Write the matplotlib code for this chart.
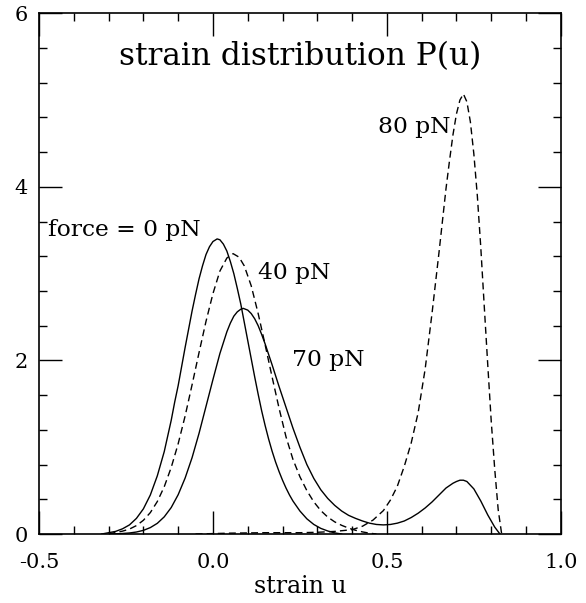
import numpy as np
import matplotlib
matplotlib.use('Agg')
import matplotlib.pyplot as plt
from matplotlib.ticker import MultipleLocator, FormatStrFormatter

# strain distribution P(u), one curve per force
u_0pN = [-0.32, -0.30, -0.28, -0.26, -0.24, -0.22, -0.20, -0.18, -0.16, -0.14, -0.12, -0.11,
         -0.10, -0.09, -0.08, -0.07, -0.06, -0.05, -0.04, -0.03, -0.02, -0.01, 0.00, 0.012,
         0.02, 0.03, 0.04, 0.05, 0.06, 0.07, 0.08, 0.09, 0.10, 0.11, 0.12, 0.13, 0.14,
         0.15, 0.16, 0.17, 0.18, 0.19, 0.20, 0.21, 0.22, 0.23, 0.25, 0.27, 0.29, 0.31,
         0.33, 0.35, 0.37]
p_0pN = [0.0, 0.015, 0.03, 0.06, 0.105, 0.18, 0.29, 0.45, 0.67, 0.95, 1.31, 1.52,
         1.71, 1.93, 2.15, 2.36, 2.57, 2.76, 2.94, 3.09, 3.22, 3.31, 3.37, 3.40,
         3.39, 3.34, 3.26, 3.14, 3.00, 2.83, 2.65, 2.44, 2.23, 2.02, 1.81, 1.61, 1.42,
         1.25, 1.095, 0.955, 0.83, 0.72, 0.62, 0.53, 0.45, 0.38, 0.265, 0.175, 0.11, 0.065,
         0.035, 0.013, 0.0]

u_40pN = [-0.30, -0.28, -0.26, -0.24, -0.22, -0.20, -0.18, -0.16, -0.14, -0.12, -0.10, -0.08,
          -0.06, -0.04, -0.02, 0.00, 0.02, 0.04, 0.058, 0.075, 0.09, 0.11, 0.13, 0.15,
          0.17, 0.19, 0.21, 0.23, 0.25, 0.27, 0.29, 0.31, 0.33, 0.35, 0.37, 0.39, 0.41,
          0.43, 0.45, 0.47]
p_40pN = [0.0, 0.018, 0.033, 0.057, 0.097, 0.158, 0.247, 0.374, 0.545, 0.767, 1.04, 1.36,
          1.72, 2.09, 2.45, 2.77, 3.03, 3.18, 3.23, 3.19, 3.09, 2.86, 2.54, 2.18,
          1.81, 1.45, 1.12, 0.86, 0.66, 0.50, 0.37, 0.27, 0.195, 0.14, 0.10, 0.068, 0.043,
          0.024, 0.01, 0.0]

u_70pN = [-0.29, -0.26, -0.24, -0.22, -0.20, -0.18, -0.16, -0.14, -0.12, -0.10, -0.08, -0.06,
          -0.04, -0.02, 0.00, 0.02, 0.04, 0.05, 0.06, 0.07, 0.08, 0.087, 0.10, 0.11, 0.12,
          0.13, 0.14, 0.15, 0.16, 0.17, 0.19, 0.21, 0.23, 0.25, 0.27, 0.29, 0.31, 0.33,
          0.35, 0.37, 0.39, 0.41, 0.43, 0.45, 0.47, 0.49, 0.51, 0.53, 0.55, 0.57, 0.59,
          0.61, 0.63, 0.65, 0.67, 0.69, 0.70, 0.71, 0.72, 0.73, 0.75, 0.77, 0.79, 0.81,
          0.825]
p_70pN = [0.0, 0.006, 0.012, 0.023, 0.042, 0.074, 0.123, 0.198, 0.305, 0.453, 0.645, 0.88,
          1.16, 1.47, 1.78, 2.08, 2.33, 2.43, 2.51, 2.56, 2.59, 2.60, 2.58, 2.54, 2.48,
          2.40, 2.30, 2.19, 2.07, 1.95, 1.70, 1.46, 1.22, 1.00, 0.80, 0.64, 0.51, 0.41,
          0.33, 0.265, 0.215, 0.18, 0.15, 0.125, 0.11, 0.105, 0.11, 0.125, 0.15, 0.19, 0.24,
          0.30, 0.37, 0.45, 0.53, 0.585, 0.605, 0.62, 0.62, 0.605, 0.52, 0.38, 0.22, 0.08,
          0.0]

u_80pN = [-0.05, 0.05, 0.15, 0.25, 0.30, 0.35, 0.40, 0.43, 0.46, 0.49, 0.51, 0.53, 0.55,
          0.57, 0.59, 0.61, 0.63, 0.65, 0.67, 0.68, 0.69, 0.70, 0.71, 0.72, 0.73, 0.74,
          0.75, 0.76, 0.77, 0.78, 0.79, 0.80, 0.81, 0.82, 0.83]
p_80pN = [0.0, 0.01, 0.015, 0.015, 0.02, 0.03, 0.05, 0.09, 0.16, 0.27, 0.39, 0.55, 0.78,
          1.05, 1.40, 1.90, 2.55, 3.25, 3.98, 4.30, 4.60, 4.84, 5.00, 5.07, 4.98, 4.75,
          4.38, 3.90, 3.30, 2.62, 1.95, 1.30, 0.75, 0.28, 0.0]

labels = ['force = 0 pN', '40 pN', '70 pN', '80 pN']
label_pos = [(-0.474, 3.50), (0.129, 3.01), (0.227, 2.00), (0.474, 4.69)]

plt.rcParams['font.family'] = 'DejaVu Serif'

fig = plt.figure(figsize=(5.86, 6.03), dpi=100)
ax = fig.add_axes([0.0666, 0.1144, 0.8904, 0.8636])

dash = (0, (5, 3))
ax.plot(u_0pN, p_0pN, color='black', lw=1.0)
ax.plot(u_40pN, p_40pN, color='black', lw=1.0, linestyle=dash)
ax.plot(u_70pN, p_70pN, color='black', lw=1.0)
ax.plot(u_80pN, p_80pN, color='black', lw=1.0, linestyle=dash)

for text, (x, y) in zip(labels, label_pos):
    ax.text(x, y, text, fontsize=16.8, ha='left', va='center')

ax.text(0.25, 5.50, 'strain distribution P(u)', fontsize=22.5, ha='center', va='center')

ax.set_xlim(-0.5, 1.0)
ax.set_ylim(0, 6)
ax.xaxis.set_major_locator(MultipleLocator(0.5))
ax.xaxis.set_minor_locator(MultipleLocator(0.1))
ax.yaxis.set_major_locator(MultipleLocator(2))
ax.yaxis.set_minor_locator(MultipleLocator(0.4))
ax.xaxis.set_major_formatter(FormatStrFormatter('%.1f'))
ax.tick_params(which='both', direction='in', top=True, right=True, width=1.0)
ax.tick_params(which='major', length=16.5, labelsize=15)
ax.tick_params(axis='x', which='major', pad=14)
ax.tick_params(axis='y', which='major', pad=8)
ax.tick_params(which='minor', length=5.5)
for s in ax.spines.values():
    s.set_linewidth(1.2)

ax.set_xlabel('strain u', fontsize=17, labelpad=2)

fig.savefig('out.png', dpi=100)
